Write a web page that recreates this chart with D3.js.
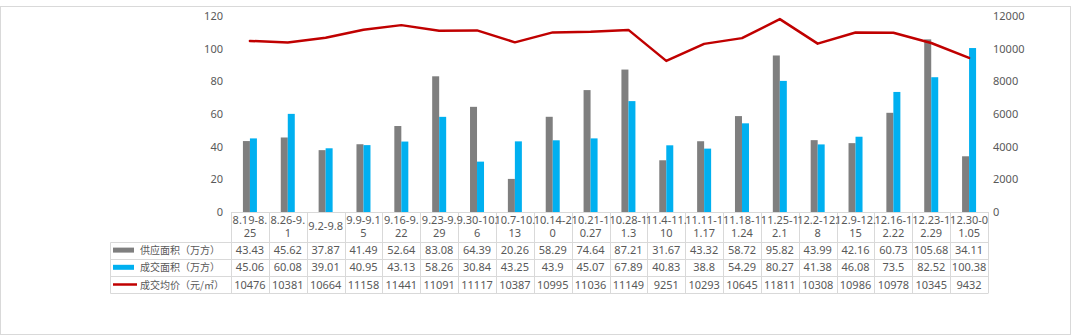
<!DOCTYPE html>
<html>
<head>
<meta charset="utf-8">
<script src="https://cdn.jsdelivr.net/npm/d3@7"></script>
<style>
  html, body { margin: 0; padding: 0; background: #fff; }
  svg text { font-family: "Noto Sans", "Noto Sans CJK SC", sans-serif; fill: #595959; }
</style>
</head>
<body>
<svg id="chart" width="1072" height="336"></svg>
<script>
// Weekly periods
const categories = ["8.19-8.25", "8.26-9.1", "9.2-9.8", "9.9-9.15", "9.16-9.22", "9.23-9.29",
  "9.30-10.6", "10.7-10.13", "10.14-20", "10.21-10.27", "10.28-11.3", "11.4-11.10",
  "11.11-11.17", "11.18-11.24", "11.25-12.1", "12.2-12.8", "12.9-12.15", "12.16-12.22",
  "12.23-12.29", "12.30-01.05"];

// 供应面积（万方）
const supply = [43.43, 45.62, 37.87, 41.49, 52.64, 83.08, 64.39, 20.26, 58.29, 74.64,
  87.21, 31.67, 43.32, 58.72, 95.82, 43.99, 42.16, 60.73, 105.68, 34.11];

// 成交面积（万方）
const deal = [45.06, 60.08, 39.01, 40.95, 43.13, 58.26, 30.84, 43.25, 43.9, 45.07,
  67.89, 40.83, 38.8, 54.29, 80.27, 41.38, 46.08, 73.5, 82.52, 100.38];

// 成交均价（元/㎡）
const price = [10476, 10381, 10664, 11158, 11441, 11091, 11117, 10387, 10995, 11036,
  11149, 9251, 10293, 10645, 11811, 10308, 10986, 10978, 10345, 9432];

const seriesNames = ["供应面积（万方）", "成交面积（万方）", "成交均价（元/㎡）"];
const leftTicks = [0, 20, 40, 60, 80, 100, 120];
const rightTicks = [0, 2000, 4000, 6000, 8000, 10000, 12000];

const colors = { supply: "#7f7f7f", deal: "#00b0f0", price: "#c00000", grid: "#d9d9d9" };

const svg = d3.select("#chart");

// outer chart border
svg.append("rect")
  .attr("x", 0.5).attr("y", 6.5).attr("width", 1070).attr("height", 328)
  .attr("fill", "none").attr("stroke", colors.grid);

const plot = { left: 231, right: 988, top: 16, bottom: 212 };

const x = d3.scaleBand().domain(categories).range([plot.left, plot.right]).padding(0);
const colW = x.bandwidth();
const yL = d3.scaleLinear().domain([0, 120]).range([plot.bottom, plot.top]);
const yR = d3.scaleLinear().domain([0, 12000]).range([plot.bottom, plot.top]);

// left axis labels
const axisL = d3.axisLeft(yL).tickValues(leftTicks).tickSize(0).tickPadding(8).tickFormat(d3.format("d"));
const gL = svg.append("g").attr("transform", `translate(${plot.left},0)`).call(axisL);
gL.select(".domain").remove();
gL.selectAll("text").attr("font-size", 11).style("font-family", "Noto Sans").attr("fill", "#595959");

// right axis labels
const axisR = d3.axisRight(yR).tickValues(rightTicks).tickSize(0).tickPadding(5).tickFormat(d3.format("d"));
const gR = svg.append("g").attr("transform", `translate(${plot.right},0)`).call(axisR);
gR.select(".domain").remove();
gR.selectAll("text").attr("font-size", 11).style("font-family", "Noto Sans").attr("fill", "#595959");

// clustered bars
const barW = 7;
const bars = svg.append("g");
bars.selectAll("rect.supply").data(categories).join("rect")
  .attr("class", "supply")
  .attr("x", d => x(d) + colW / 2 - barW)
  .attr("width", barW)
  .attr("y", (d, i) => yL(supply[i]))
  .attr("height", (d, i) => plot.bottom - yL(supply[i]))
  .attr("fill", colors.supply);
bars.selectAll("rect.deal").data(categories).join("rect")
  .attr("class", "deal")
  .attr("x", d => x(d) + colW / 2)
  .attr("width", barW)
  .attr("y", (d, i) => yL(deal[i]))
  .attr("height", (d, i) => plot.bottom - yL(deal[i]))
  .attr("fill", colors.deal);

// average price line on secondary axis
const line = d3.line()
  .x((d, i) => x(categories[i]) + colW / 2)
  .y(d => yR(d));
svg.append("path").datum(price)
  .attr("d", line)
  .attr("fill", "none")
  .attr("stroke", colors.price)
  .attr("stroke-width", 2.5)
  .attr("stroke-linejoin", "round")
  .attr("stroke-linecap", "round");

// data table beneath the plot
const table = svg.append("g");
const headerBottom = 241.5;
const rowH = 17.2;
const legendLeft = 110.5;
const tableBottom = headerBottom + rowH * 3;

// horizontal rules
table.append("line").attr("x1", plot.left).attr("x2", plot.right)
  .attr("y1", plot.bottom + 0.5).attr("y2", plot.bottom + 0.5).attr("stroke", colors.grid);
for (let r = 0; r <= 3; r++) {
  const yy = Math.round(headerBottom + r * rowH) + 0.5;
  table.append("line").attr("x1", legendLeft).attr("x2", plot.right)
    .attr("y1", yy).attr("y2", yy).attr("stroke", colors.grid);
}
// vertical rules
table.append("line").attr("x1", legendLeft).attr("x2", legendLeft)
  .attr("y1", Math.round(headerBottom) + 0.5).attr("y2", Math.round(tableBottom) + 0.5).attr("stroke", colors.grid);
categories.forEach((c, i) => {
  const xx = Math.round(x(c)) + 0.5;
  table.append("line").attr("x1", xx).attr("x2", xx)
    .attr("y1", plot.bottom).attr("y2", Math.round(tableBottom) + 0.5).attr("stroke", colors.grid);
});
table.append("line").attr("x1", plot.right + 0.5).attr("x2", plot.right + 0.5)
  .attr("y1", plot.bottom).attr("y2", Math.round(tableBottom) + 0.5).attr("stroke", colors.grid);

// category headers, wrapped to the column width (a trailing period may hang)
const maxW = colW + 1.5;
categories.forEach(c => {
  const cx = x(c) + colW / 2;
  const t = table.append("text").attr("x", cx).attr("text-anchor", "middle")
    .attr("font-size", 11).text(c);
  if (t.node().getComputedTextLength() <= maxW) {
    t.attr("y", 230);
    return;
  }
  let cut = c.length - 1;
  while (cut > 1) {
    t.text(c.slice(0, cut));
    if (t.node().getComputedTextLength() <= maxW) break;
    cut--;
  }
  let first = c.slice(0, cut);
  let rest = c.slice(cut);
  if (rest.startsWith(".")) { rest = rest.slice(1); first += "."; }
  t.text(null);
  t.append("tspan").attr("x", cx).attr("y", 224).text(first);
  t.append("tspan").attr("x", cx).attr("y", 237).text(rest);
});

// data rows
const rows = [supply, deal, price];
rows.forEach((vals, r) => {
  const ty = headerBottom + r * rowH + rowH / 2 + 4;
  vals.forEach((v, i) => {
    table.append("text")
      .attr("x", x(categories[i]) + colW / 2)
      .attr("y", ty)
      .attr("text-anchor", "middle")
      .attr("font-size", 11)
      .text(String(v));
  });
  // legend key
  const ky = headerBottom + r * rowH + rowH / 2;
  if (r < 2) {
    table.append("rect").attr("x", 113).attr("y", ky - 2.5).attr("width", 21).attr("height", 5)
      .attr("fill", r === 0 ? colors.supply : colors.deal);
  } else {
    table.append("line").attr("x1", 113).attr("x2", 137).attr("y1", ky).attr("y2", ky)
      .attr("stroke", colors.price).attr("stroke-width", 2.5);
  }
  table.append("text").attr("x", 140).attr("y", ty)
    .attr("font-size", 10).style("font-family", "Noto Sans CJK SC")
    .text(seriesNames[r]);
});
</script>
</body>
</html>
